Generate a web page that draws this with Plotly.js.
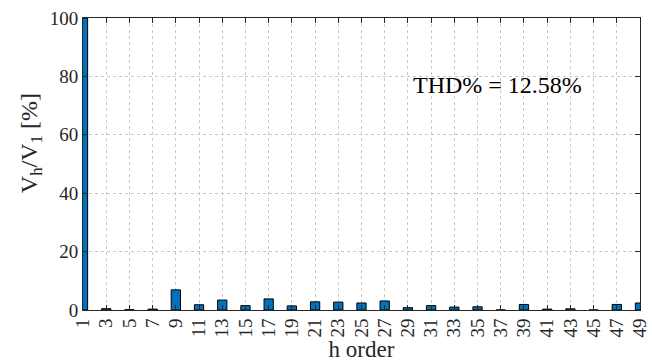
<!DOCTYPE html>
<html><head><meta charset="utf-8">
<script src="https://cdn.plot.ly/plotly-3.0.1.min.js"></script>
<style>html,body{margin:0;padding:0;background:#fff}#c{width:652px;height:362px}</style>
</head><body><div id="c"></div>
<script>
const harmonicOrders = [1,3,5,7,9,11,13,15,17,19,21,23,25,27,29,31,33,35,37,39,41,43,45,47,49];
const magnitudes = [100,0.45,0.1,0.3,6.9,1.8,3.4,1.5,3.8,1.4,2.8,2.7,2.4,3.1,0.8,1.5,1.0,1.1,0.0,1.9,0.3,0.4,0.0,1.9,2.4];
const xTickLabels = harmonicOrders.map(String);
const yTicks = [0,20,40,60,80,100];
const thdText = 'THD% = 12.58%';
const yLabel = 'V<sub>h</sub>/V<sub>1</sub> [%]';

const font = {family: 'Liberation Serif, Times New Roman, serif', color: '#262626'};
const axisCommon = {
  showline: true, linecolor: '#262626', linewidth: 1, mirror: 'ticks',
  ticks: 'inside', ticklen: 5, tickcolor: '#262626',
  showgrid: true, gridcolor: '#c8c8c8', griddash: 'dot', gridwidth: 1,
  zeroline: false, tickfont: Object.assign({size: 19}, font)
};
Plotly.newPlot('c', [{
  type: 'bar', x: harmonicOrders, y: magnitudes, width: 0.8,
  marker: {color: '#0072BD', line: {color: '#000', width: 1}},
  hoverinfo: 'skip'
}], {
  width: 652, height: 362,
  margin: {l: 83, r: 12, t: 18, b: 52},
  paper_bgcolor: '#fff', plot_bgcolor: '#fff',
  showlegend: false,
  font: font,
  xaxis: Object.assign({}, axisCommon, {
    range: [1, 49], tickmode: 'array', tickvals: harmonicOrders, ticktext: xTickLabels,
    tickangle: -90,
    title: {text: 'h order', font: Object.assign({size: 23}, font), standoff: 0}
  }),
  yaxis: Object.assign({}, axisCommon, {
    range: [0, 100], tickmode: 'array', tickvals: yTicks
  }),
  annotations: [{
    x: 29.3, y: 77, xref: 'x', yref: 'y', xanchor: 'left', yanchor: 'middle',
    text: thdText, showarrow: false, font: Object.assign({size: 24}, font, {color: '#000'})
  }, {
    x: -0.094, y: 0.57, xref: 'paper', yref: 'paper', xanchor: 'center', yanchor: 'middle',
    textangle: -90, text: yLabel, showarrow: false, font: Object.assign({size: 24}, font)
  }]
}, {displayModeBar: false, staticPlot: true});
</script></body></html>
